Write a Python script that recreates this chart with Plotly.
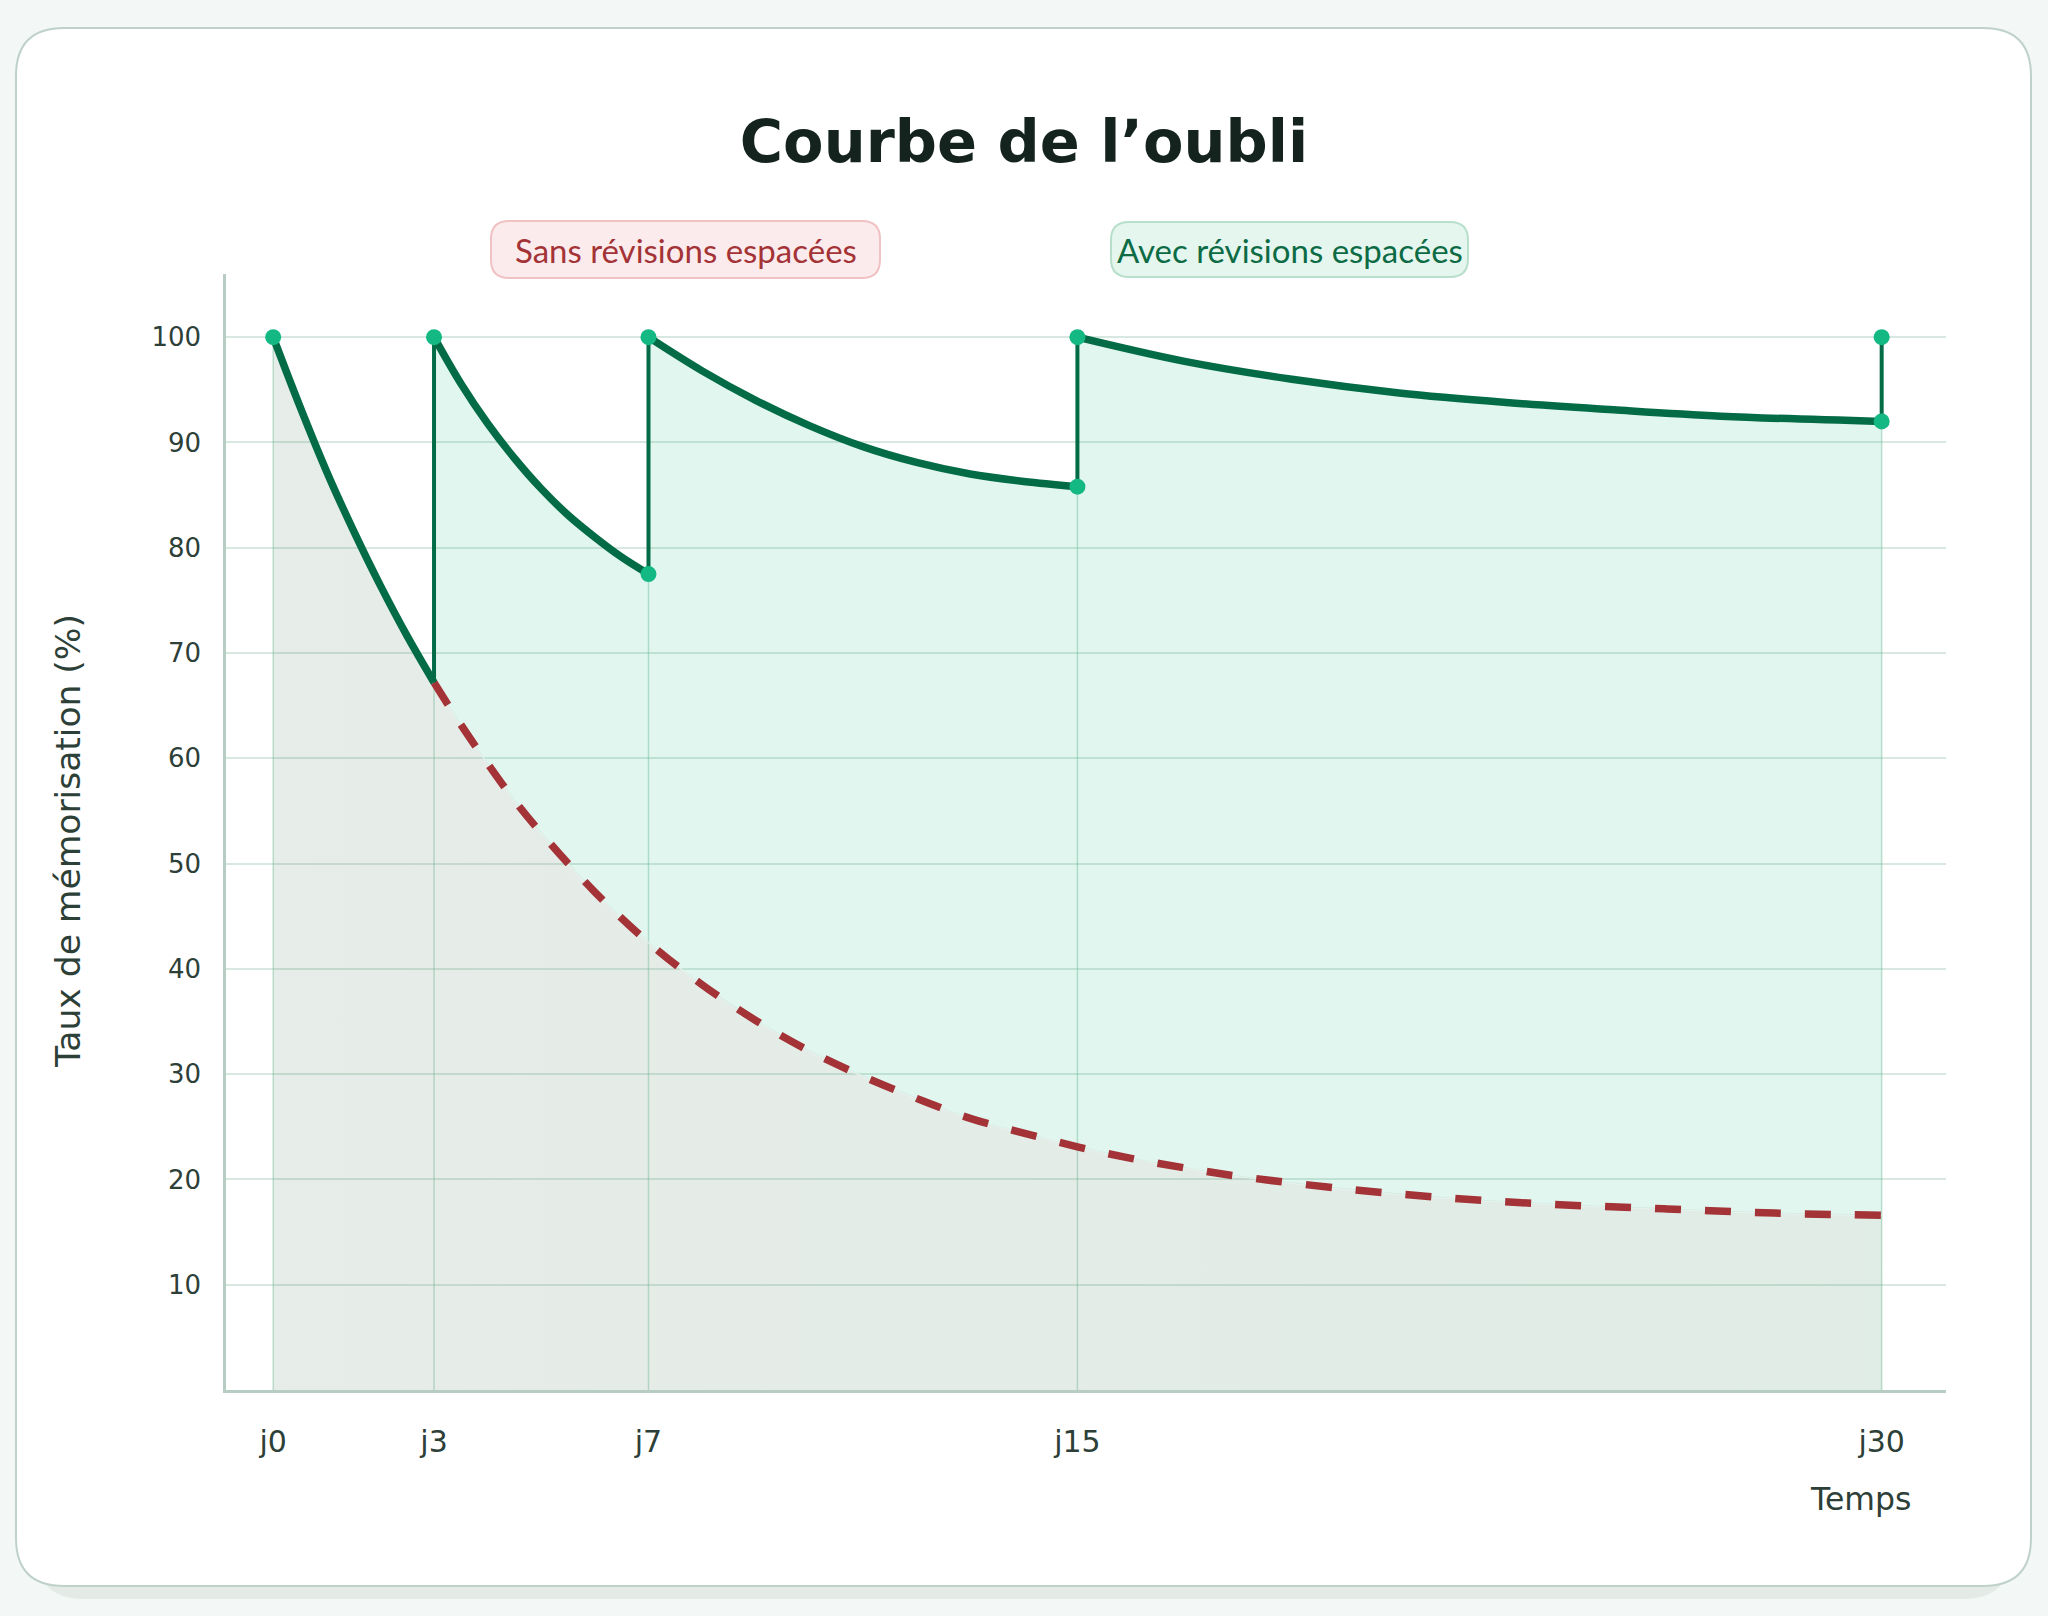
import plotly.graph_objects as go

# jours de révision et étiquettes de l'axe x
review_days = [0, 3, 7, 15, 30]
tick_labels = ['j0', 'j3', 'j7', 'j15', 'j30']
y_ticks = [10, 20, 30, 40, 50, 60, 70, 80, 90, 100]

# courbe sans révisions
sans_days = [0, 0.5, 1, 1.5, 2, 2.5, 3, 3.5, 4, 4.5, 5, 6, 7, 8, 9, 10, 11, 12, 13, 14,
             15, 16, 17, 18, 20, 22, 24, 26, 28, 30]
sans_vals = [100, 93.4, 87.2, 81.6, 76.4, 71.6, 67.2, 63.2, 59.5, 56.0, 52.9, 47.3, 42.5,
             38.5, 35.1, 32.2, 29.8, 27.7, 25.8, 24.4, 23.1, 22.0, 21.1, 20.3, 19.1, 18.2,
             17.6, 17.2, 16.8, 16.6]

# courbe avec révisions, un segment par intervalle
seg1_days = [0, 0.5, 1, 1.5, 2, 2.5, 3]
seg1_vals = [100, 93.4, 87.2, 81.6, 76.4, 71.6, 67.2]
seg2_days = [3, 3.5, 4, 4.5, 5, 5.5, 6, 6.5, 7]
seg2_vals = [100, 95.6, 91.8, 88.5, 85.6, 83.1, 81.0, 79.1, 77.5]
seg3_days = [7, 8, 9, 10, 11, 12, 13, 14, 15]
seg3_vals = [100, 96.8, 94.0, 91.6, 89.6, 88.1, 87.0, 86.3, 85.8]
seg4_days = [15, 17, 19, 21, 23, 25, 27, 30]
seg4_vals = [100, 97.7, 96.0, 94.7, 93.8, 93.1, 92.5, 92.0]

segments = [(seg1_days, seg1_vals), (seg2_days, seg2_vals),
            (seg3_days, seg3_vals), (seg4_days, seg4_vals)]

W, H = 2048, 1616
L, R, T, B = 226, 102, 274, 226
PW, PH = W - L - R, H - T - B

DARK_GREEN = '#046b47'
DOT_GREEN = '#13b882'
RED = '#a33336'
TXT = '#2d4038'


def px(x):
    return (x - L) / PW


def py(y):
    return (H - B - y) / PH


def rounded(x0, y0, x1, y1, r):
    # rectangle arrondi en pixels -> chemin en coordonnées paper
    def p(x, y):
        return f'{px(x):.5f},{py(y):.5f}'
    return (f'M{p(x0 + r, y0)} L{p(x1 - r, y0)} Q{p(x1, y0)} {p(x1, y0 + r)} '
            f'L{p(x1, y1 - r)} Q{p(x1, y1)} {p(x1 - r, y1)} '
            f'L{p(x0 + r, y1)} Q{p(x0, y1)} {p(x0, y1 - r)} '
            f'L{p(x0, y0 + r)} Q{p(x0, y0)} {p(x0 + r, y0)} Z')


fig = go.Figure()

# lignes verticales aux jours de révision
gx, gy = [], []
for d in review_days:
    gx += [d, d, None]
    gy += [0, 100, None]
fig.add_trace(go.Scatter(x=gx, y=gy, mode='lines',
                         line=dict(color='rgba(120,190,155,0.45)', width=1.5),
                         hoverinfo='skip', showlegend=False))

# aire sous la courbe sans révisions
fig.add_trace(go.Scatter(
    x=sans_days, y=sans_vals, mode='lines', line_shape='spline',
    line=dict(color='rgba(236,243,240,1)', width=1.5),
    fill='tozeroy',
    fillgradient=dict(type='horizontal',
                      colorscale=[[0, 'rgba(110,145,125,0.17)'],
                                  [1, 'rgba(90,155,120,0.19)']]),
    hoverinfo='skip', showlegend=False))

# aire entre les deux courbes (à partir de j3)
for days, vals in segments[1:]:
    lo = [d for d in sans_days if days[0] <= d <= days[-1]]
    lo_v = [v for d, v in zip(sans_days, sans_vals) if days[0] <= d <= days[-1]]
    fig.add_trace(go.Scatter(x=lo, y=lo_v, mode='lines', line_shape='spline',
                             line=dict(width=0), hoverinfo='skip', showlegend=False))
    fig.add_trace(go.Scatter(x=days, y=vals, mode='lines', line_shape='spline',
                             line=dict(width=0), fill='tonexty',
                             fillcolor='rgba(16,185,129,0.12)',
                             hoverinfo='skip', showlegend=False))

# courbe sans révisions en pointillés
dash_days = [d for d in sans_days if d >= 3]
dash_vals = [v for d, v in zip(sans_days, sans_vals) if d >= 3]
fig.add_trace(go.Scatter(x=dash_days, y=dash_vals, mode='lines', line_shape='spline',
                         line=dict(color=RED, width=7.5, dash='26px,24px'),
                         name='Sans révisions espacées', showlegend=False))

# sauts de révision
jx, jy = [], []
for days, vals in segments[:-1]:
    jx += [days[-1], days[-1], None]
    jy += [vals[-1], 100, None]
jx += [seg4_days[-1], seg4_days[-1]]
jy += [seg4_vals[-1], 100]
fig.add_trace(go.Scatter(x=jx, y=jy, mode='lines',
                         line=dict(color=DARK_GREEN, width=4),
                         hoverinfo='skip', showlegend=False))

# courbe avec révisions
for days, vals in segments:
    fig.add_trace(go.Scatter(x=days, y=vals, mode='lines', line_shape='spline',
                             line=dict(color=DARK_GREEN, width=7.5),
                             name='Avec révisions espacées', showlegend=False))

# points : sommets à 100 et creux avant chaque révision (sauf j3)
mx = review_days + [seg2_days[-1], seg3_days[-1], seg4_days[-1]]
my = [100] * len(review_days) + [seg2_vals[-1], seg3_vals[-1], seg4_vals[-1]]
fig.add_trace(go.Scatter(x=mx, y=my, mode='markers',
                         marker=dict(color=DOT_GREEN, size=16, line=dict(width=0)),
                         showlegend=False))

shapes = [
    # ombre et carte
    dict(type='path', xref='paper', yref='paper', layer='below',
         path=rounded(36, 44, 2011, 1599, 48), fillcolor='#e4ebe7', line=dict(width=0)),
    dict(type='path', xref='paper', yref='paper', layer='below',
         path=rounded(16, 28, 2031, 1586, 48), fillcolor='white',
         line=dict(color='#bfd2c9', width=2)),
    # badges de légende
    dict(type='path', xref='paper', yref='paper', layer='above',
         path=rounded(491, 221, 880, 278, 18), fillcolor='#fcebec',
         line=dict(color='#f0c2c3', width=2)),
    dict(type='path', xref='paper', yref='paper', layer='above',
         path=rounded(1111, 222, 1468, 277, 18), fillcolor='#e5f6ee',
         line=dict(color='#b8dfcc', width=2)),
]

annotations = [
    dict(text='Sans révisions espacées', x=px(685.5), y=py(250), xref='paper', yref='paper',
         showarrow=False, xanchor='center', yanchor='middle',
         font=dict(family='Lato', size=33, color=RED)),
    dict(text='Avec révisions espacées', x=px(1289.5), y=py(250), xref='paper', yref='paper',
         showarrow=False, xanchor='center', yanchor='middle',
         font=dict(family='Lato', size=33, color='#0c6b45')),
    dict(text='Taux de mémorisation (%)', x=px(68), y=py(841), xref='paper', yref='paper',
         showarrow=False, textangle=-90, xanchor='center', yanchor='middle',
         font=dict(family='DejaVu Sans', size=34.5, color=TXT)),
    dict(text='Temps', x=px(1860), y=py(1499), xref='paper', yref='paper',
         showarrow=False, xanchor='center', yanchor='middle',
         font=dict(family='DejaVu Sans', size=31.5, color=TXT)),
]

fig.update_layout(
    width=W, height=H,
    margin=dict(l=L, r=R, t=T, b=B, autoexpand=False),
    paper_bgcolor='#f3f7f5',
    plot_bgcolor='white',
    title=dict(text='Courbe de l’oubli', x=0.5, xref='container', xanchor='center',
               y=1 - 141 / H, yref='container', yanchor='middle',
               font=dict(family='DejaVu Sans', size=59, weight='bold', color='#15231e')),
    showlegend=False,
    shapes=shapes,
    annotations=annotations,
    xaxis=dict(range=[-0.88, 31.2], tickvals=review_days, ticktext=tick_labels,
               showgrid=False, zeroline=False, showline=True,
               linecolor='#b7ccc3', linewidth=2.5, ticks='',
               ticklabelstandoff=23,
               tickfont=dict(family='DejaVu Sans', size=30, color=TXT)),
    yaxis=dict(range=[0, 106], tickvals=y_ticks,
               showgrid=True, gridcolor='#d6e8df', gridwidth=2,
               zeroline=False, showline=True,
               linecolor='#b7ccc3', linewidth=2.5, ticks='',
               ticklabelstandoff=17,
               tickfont=dict(family='DejaVu Sans', size=26, color=TXT)),
)

fig.write_html("out.html", config={'displayModeBar': False},
               post_script="document.body.style.margin='0';")
